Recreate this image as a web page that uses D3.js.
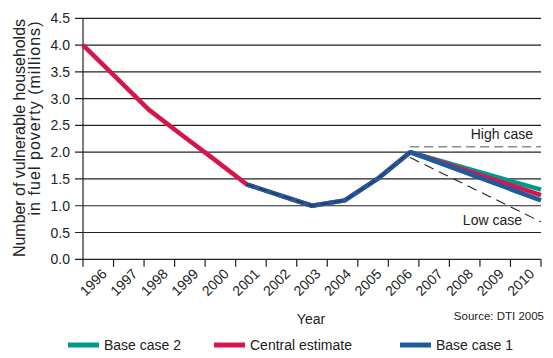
<!DOCTYPE html>
<html><head><meta charset="utf-8">
<script src="https://cdn.jsdelivr.net/npm/d3@7"></script>
<style>body{margin:0;background:#fff}svg{display:block}text{font-family:"Liberation Sans",Arial,sans-serif;fill:#222}</style>
</head><body><svg id="c" width="553" height="358"></svg>
<script>
const years = [1996,1997,1998,1999,2000,2001,2002,2003,2004,2005,2006,2007,2008,2009,2010];
const yTicks = [0,0.5,1,1.5,2,2.5,3,3.5,4,4.5];
const centralYears = [1996,1997,1998,1999,2000,2001,2002,2003,2004,2005,2006,2010];
const centralValues = [4.0,3.4,2.8,2.33,1.87,1.4,1.2,1.0,1.1,1.5,2.0,1.2];
const base1Years = [2001,2002,2003,2004,2005,2006,2010];
const base1Values = [1.4,1.2,1.0,1.1,1.5,2.0,1.1];
const base2Years = [2006,2010];
const base2Values = [2.0,1.3];
const highYears = [2006,2010];
const highValues = [2.1,2.1];
const lowYears = [2006,2010];
const lowValues = [1.9,0.7];
const histYears = [2001,2002,2003,2004,2005,2006];
const histValues = [1.4,1.2,1.0,1.1,1.5,2.0];

const svg = d3.select("#c");
const L=83, R=541, T=18.3, B=259.3;
const xBand = d3.scaleBand().domain(years).range([L,R]);
const xPt = d3.scalePoint().domain(years).range([L,R]);
const y = d3.scaleLinear().domain([0,4.5]).range([B,T]);

// gridlines
svg.append("g").selectAll("line").data(yTicks).join("line")
  .attr("x1",75).attr("x2",R).attr("y1",d=>y(d)).attr("y2",d=>y(d))
  .attr("stroke","#222").attr("stroke-width",1.2);
svg.append("g").selectAll("text").data(yTicks).join("text")
  .attr("x",70).attr("y",d=>y(d)+5).attr("text-anchor","end")
  .attr("font-size",14).text(d=>d.toFixed(1));
svg.append("line").attr("x1",L).attr("x2",L).attr("y1",T).attr("y2",B).attr("stroke","#222").attr("stroke-width",1.2);

// x axis ticks at band boundaries
const bounds = years.map(d=>xBand(d)).concat([R]);
svg.append("g").selectAll("line").data(bounds).join("line")
  .attr("x1",d=>d).attr("x2",d=>d).attr("y1",B).attr("y2",B+7.5)
  .attr("stroke","#222").attr("stroke-width",1.2);
svg.append("g").selectAll("text").data(years).join("text")
  .attr("transform",d=>`translate(${xBand(d)+xBand.bandwidth()/2+6},${B+12}) rotate(-45)`)
  .attr("text-anchor","end").attr("dy","0.35em").attr("font-size",14).text(d=>d);

const line = d3.line().x(d=>xPt(d[0])).y(d=>y(d[1]));
const zip=(a,b)=>a.map((v,i)=>[v,b[i]]);

svg.append("path").attr("d",line(zip(highYears,highValues))).attr("fill","none")
  .attr("stroke","#8a8a8a").attr("stroke-width",1.5).attr("stroke-dasharray","9,5");

const series = [
  {ys:base2Years, vs:base2Values, c:"#00998c"},
  {ys:centralYears, vs:centralValues, c:"#d6164b"},
  {ys:base1Years, vs:base1Values, c:"#1c5ba0"}
];
series.forEach(s=>{
  svg.append("path").attr("d",line(zip(s.ys,s.vs))).attr("fill","none")
    .attr("stroke",s.c).attr("stroke-width",4.5).attr("stroke-linejoin","round");
});
svg.append("path").attr("d",line(zip(histYears,histValues))).attr("fill","none")
  .attr("stroke","#222").attr("stroke-width",0.8).attr("stroke-dasharray","8,5");
svg.append("path").attr("d",line(zip(lowYears,lowValues))).attr("fill","none")
  .attr("stroke","#222").attr("stroke-width",1.1).attr("stroke-dasharray","10,6");

svg.append("text").attr("x",533).attr("y",139).attr("text-anchor","end").attr("font-size",14).text("High case");
svg.append("text").attr("x",522).attr("y",225).attr("text-anchor","end").attr("font-size",14).text("Low case");

// axis titles
svg.append("text").attr("transform","translate(25,138) rotate(-90)").attr("text-anchor","middle")
  .attr("font-size",16).attr("textLength",238).attr("lengthAdjust","spacing").text("Number of vulnerable households");
svg.append("text").attr("transform","translate(40,118.5) rotate(-90)").attr("text-anchor","middle")
  .attr("font-size",16).attr("textLength",194).attr("lengthAdjust","spacing").text("in fuel poverty (millions)");
svg.append("text").attr("x",311).attr("y",324).attr("text-anchor","middle").attr("font-size",14).text("Year");
svg.append("text").attr("x",544).attr("y",320).attr("text-anchor","end").attr("font-size",11.5).text("Source: DTI 2005");

// legend
const legend = [{n:"Base case 2",c:"#00998c",x:68},{n:"Central estimate",c:"#d6164b",x:214},{n:"Base case 1",c:"#1c5ba0",x:400}];
const lg = svg.append("g").selectAll("g").data(legend).join("g").attr("transform",d=>`translate(${d.x},345)`);
lg.append("line").attr("x1",0).attr("x2",31).attr("stroke",d=>d.c).attr("stroke-width",5);
lg.append("text").attr("x",36).attr("y",5).attr("font-size",14).text(d=>d.n);
</script></body></html>
